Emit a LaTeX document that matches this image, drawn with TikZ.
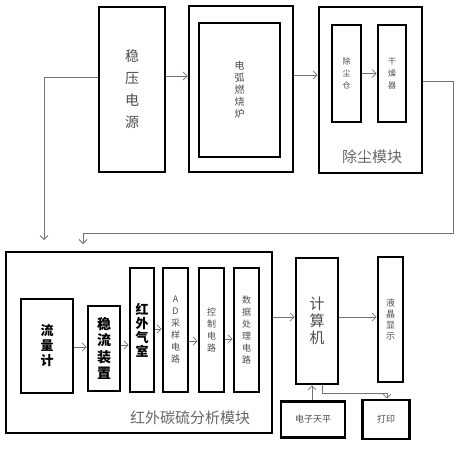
\documentclass[tikz,border=0pt]{standalone}
\usepackage{fontspec}
\setmainfont{Noto Sans CJK SC}
\usetikzlibrary{arrows.meta,positioning}

\begin{document}
\begin{tikzpicture}[
    x=1pt, y=-1pt,
    >={Straight Barb[length=4pt,width=8pt]},
    box/.style={
        draw=black,
        line width=2.6pt,
        inner sep=0pt,
        align=center,
        text=black!70
    },
    frame/.style={
        draw=black,
        line width=2.6pt,
        inner sep=0pt
    },
    sz/.style 2 args={minimum width=#1pt, minimum height=#2pt},
    big/.style={font=\fontsize{14}{22}\selectfont},
    mid/.style={font=\fontsize{13}{15}\selectfont\bfseries, text=black},
    small/.style={font=\fontsize{9}{12}\selectfont},
    modlabel/.style={font=\fontsize{15}{18}\selectfont, text=black!60},
    arr/.style={->, draw=black!55, line width=0.8pt}
]
\useasboundingbox (0,0) rectangle (460,450);

% top row: power supply, furnace, dust removal
\node[box, sz={66}{165}, big] (power) at (132,89.5) {稳\\压\\电\\源};
\node[frame, sz={104}{166}] (furnace) at (241,89) {};
\node[box, sz={81}{134}, font=\fontsize{10}{12}\selectfont] (arc) at (239.5,90) {电\\弧\\燃\\烧\\炉};
\node[frame, sz={103}{166}] (dust) at (370.5,90) {};
\node[box, sz={29}{97}, font=\fontsize{8}{12}\selectfont] (bin) at (346.5,73.5) {除\\尘\\仓};
\node[box, sz={28}{97}, font=\fontsize{8}{12}\selectfont] (dryer) at (392,73.5) {干\\燥\\器};
\node[modlabel] (dustlabel) at (372,157) {除尘模块};

\draw[arr] (power.east |- 0,76) -- (furnace.west |- 0,76);
\draw[arr] (furnace.east |- 0,75) -- (dust.west |- 0,75);
\draw[arr] (bin) -- (dryer);

% loops down to the analysis module
\coordinate (inA) at (44,240);
\coordinate (inB) at (83,244);
\draw[arr] (power.west |- 0,77) -| (inA);
\draw[arr] (dust.east |- 0,81) -- (453,81) -- (453,233) -| (inB);

% bottom row: infrared carbon-sulfur analysis module
\node[frame, sz={266}{181}] (ir) at (139,342.5) {};
\node[box, sz={52}{94}, mid] (flow) at (47,346) {流\\量\\计};
\node[box, sz={32}{85}, mid, font=\fontsize{14}{16.5}\selectfont\bfseries] (steady) at (104,348.5) {稳\\流\\装\\置};
\node[box, sz={24}{124}, mid, font=\fontsize{13}{14}\selectfont\bfseries] (cell) at (142,330) {红\\外\\气\\室};
\node[box, sz={25}{124}, small] (adc) at (175.5,330) {A\\D\\采\\样\\电\\路};
\node[box, sz={25}{124}, small] (ctrl) at (211.5,330) {控\\制\\电\\路};
\node[box, sz={25}{124}, small] (proc) at (246.5,330) {数\\据\\处\\理\\电\\路};
\node[modlabel] (irlabel) at (190,418) {红外碳硫分析模块};

\draw[arr] (flow.east |- 0,347) -- (steady.west |- 0,347);
\draw[arr] (steady.east |- 0,345) -- (cell.west |- 0,345);
\draw[arr] (cell.east |- 0,329) -- (adc.west |- 0,329);
\draw[arr] (adc.east |- 0,341) -- (ctrl.west |- 0,341);
\draw[arr] (ctrl.east |- 0,339) -- (proc.west |- 0,339);

% computer and peripherals
\node[box, sz={42}{126}, font=\fontsize{15}{17}\selectfont] (pc) at (317,321) {计\\算\\机};
\node[box, sz={25}{125}, small, font=\fontsize{9}{11}\selectfont] (lcd) at (390.5,319.5) {液\\晶\\显\\示};
\node[box, sz={64}{36}, small] (scale) at (313,419.5) {电子天平};
\node[box, sz={47}{39}, small] (printer) at (386,419.5) {打印};

\draw[arr] (ir.east |- 0,317) -- (pc.west |- 0,317);
\draw[arr] (pc.east |- 0,317) -- (lcd.west |- 0,317);
\draw[arr] (scale.north -| 312,0) -- (pc.south -| 312,0);
\draw[arr] (pc.south -| 322,0) |- (387,393) -- (printer.north -| 387,0);

\end{tikzpicture}
\end{document}
